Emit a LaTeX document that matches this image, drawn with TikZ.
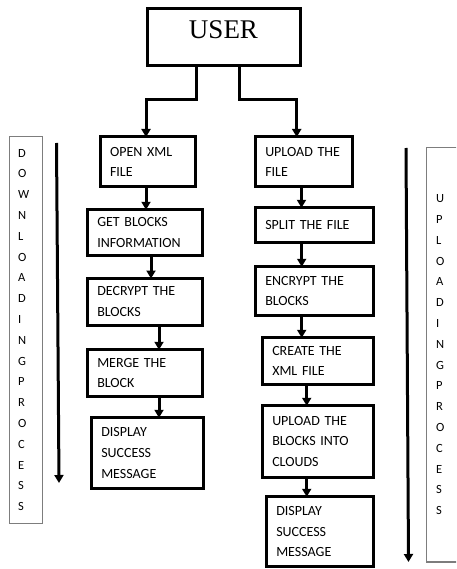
\documentclass[tikz,border=0pt]{standalone}
\usepackage{fontspec}
\setmainfont{Carlito}
\newfontfamily\userfont{Liberation Serif}
\usetikzlibrary{arrows.meta, positioning}
\definecolor{sidegray}{RGB}{125,125,125}

\begin{document}
\begin{tikzpicture}[
        x=1pt, y=-1pt,
        box/.style={rectangle, draw=black, line width=3pt, outer sep=0pt, inner xsep=9.5pt, inner ysep=0pt, align=left, font=\fontsize{14}{20.8}\selectfont},
        userbox/.style={rectangle, draw=black, line width=3pt, outer sep=0pt, inner sep=0pt, minimum width=153pt, text height=30pt, text depth=27pt, font=\userfont\fontsize{27}{27}\selectfont},
        sidebox/.style={rectangle, draw=sidegray, line width=1.2pt, outer sep=0pt, inner ysep=0pt, align=left, font=\fontsize{12.5}{20.8}\selectfont},
        flow/.style={-{Triangle[width=9pt,length=8pt]}, line width=3pt}
    ]
        \clip (0,0) rectangle (456,569);

        \node[userbox] (user) at (223.5,37.5) {USER};

        % downloading side
        \node[box, text width=75.5pt, minimum height=50pt] (open) at (147.75,162) {OPEN XML\\FILE};
        \node[box, text width=95.5pt, minimum height=45.5pt, below=22.75pt of open, xshift=-2.75pt] (getblk) {GET BLOCKS\\INFORMATION};
        \node[box, text width=95.5pt, minimum height=46.75pt, below=23.25pt of getblk] (decrypt) {DECRYPT THE\\BLOCKS};
        \node[box, text width=95.5pt, minimum height=46.5pt, below=24.5pt of decrypt] (merge) {MERGE THE\\BLOCK};
        \node[box, text width=92.5pt, minimum height=70.5pt, below=21.5pt of merge, xshift=2.5pt] (displeft) {DISPLAY\\SUCCESS\\MESSAGE};

        % uploading side
        \node[box, text width=77.5pt, minimum height=50pt] (upload) at (304,162) {UPLOAD THE\\FILE};
        \node[box, text width=98.5pt, minimum height=34.5pt, below=20.75pt of upload, xshift=10.5pt] (split) {SPLIT THE FILE};
        \node[box, text width=98.5pt, minimum height=48.5pt, below=24.5pt of split] (encrypt) {ENCRYPT THE\\BLOCKS};
        \node[box, text width=91.5pt, minimum height=46.5pt, below=22.5pt of encrypt, xshift=3.5pt] (create) {CREATE THE\\XML FILE};
        \node[box, text width=91.5pt, minimum height=71.5pt, below=21.5pt of create] (upblk) {UPLOAD THE\\BLOCKS INTO\\CLOUDS};
        \node[box, text width=87.5pt, minimum height=69.5pt, below=19.5pt of upblk, xshift=2pt] (dispright) {DISPLAY\\SUCCESS\\MESSAGE};

        % side labels
        \node[sidebox, inner xsep=8.5pt, text width=16pt, minimum height=387pt] (downlabel) at (26,330) {D\\O\\W\\N\\L\\O\\A\\D\\I\\N\\G\\P\\R\\O\\C\\E\\S\\S};
        \node[sidebox, inner xsep=9.5pt, text width=15pt, minimum height=414.5pt] (uplabel) at (443.5,354.75) {U\\P\\L\\O\\A\\D\\I\\N\\G\\P\\R\\O\\C\\E\\S\\S};

        \coordinate (downtop) at (56.5,143);
        \coordinate (downend) at (59,483);
        \coordinate (uptop) at (406,148);
        \coordinate (upend) at (408.5,562);

        \draw[flow] ([xshift=-27.5pt]user.south) -- ++(0pt,-34pt) -| ([xshift=-1.75pt]open.north);
        \draw[flow] ([xshift=15.5pt]user.south) -- ++(0pt,-34pt) -| ([xshift=-7.3pt]upload.north);

        \draw[flow] ([xshift=-1.75pt]open.south) -- ([xshift=-1.75pt]open.south |- getblk.north);
        \draw[flow] ([xshift=6pt]getblk.south) -- ([xshift=6pt]getblk.south |- decrypt.north);
        \draw[flow] ([xshift=14pt]decrypt.south) -- ([xshift=14pt]decrypt.south |- merge.north);
        \draw[flow] ([xshift=14pt]merge.south) -- ([xshift=14pt]merge.south |- displeft.north);

        \draw[flow] ([xshift=-2.5pt]upload.south) -- ([xshift=-2.5pt]upload.south |- split.north);
        \draw[flow] ([xshift=-12.8pt]split.south) -- ([xshift=-12.8pt]split.south |- encrypt.north);
        \draw[flow] ([xshift=-12.8pt]encrypt.south) -- ([xshift=-12.8pt]encrypt.south |- create.north);
        \draw[flow] ([xshift=-11.3pt]create.south) -- ([xshift=-11.3pt]create.south |- upblk.north);
        \draw[flow] ([xshift=-11.3pt]upblk.south) -- ([xshift=-11.3pt]upblk.south |- dispright.north);

        \draw[flow] (downtop) -- (downend);
        \draw[flow] (uptop) -- (upend);
    \end{tikzpicture}
\end{document}
